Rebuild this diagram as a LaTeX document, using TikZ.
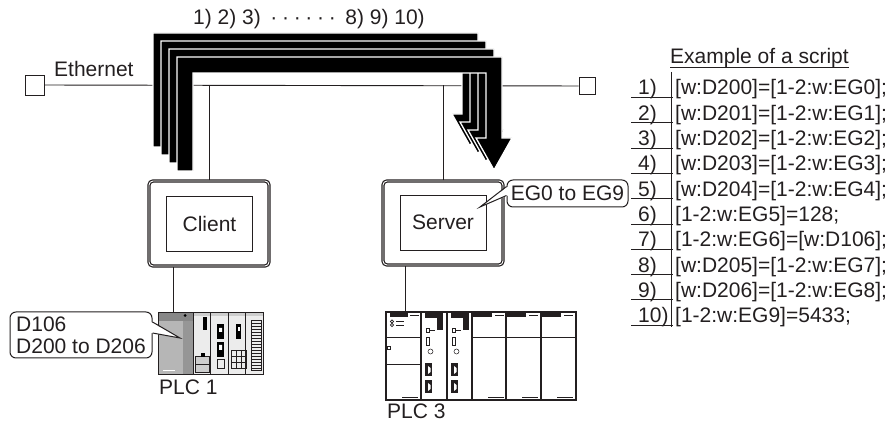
\documentclass[tikz,border=0pt]{standalone}
\usepackage{fontspec}
\setmainfont{Liberation Sans}

\definecolor{ink}{RGB}{35,31,32}
\definecolor{cpugray}{RGB}{182,182,182}
\definecolor{cpudark}{RGB}{150,150,150}
\definecolor{cputop}{RGB}{135,135,135}
\definecolor{modgray}{RGB}{236,236,236}
\definecolor{modtop}{RGB}{205,205,205}

\begin{document}
\begin{tikzpicture}[x=1pt,y=-1pt,
    font=\fontsize{21}{22}\selectfont,
    every node/.append style={text=ink},
    txt/.style={inner sep=0pt},
    wire/.style={draw=ink,line width=0.9pt},
    port/.style={draw=ink,fill=white,line width=0.9pt,inner sep=0pt},
    panel/.style={draw=ink,double=white,double distance=0.9pt,line width=1.2pt,
      rounded corners=4pt,minimum width=120pt,minimum height=85pt,inner sep=0pt},
    screen/.style={draw=ink,line width=0.9pt,minimum width=86pt,minimum height=55pt,inner sep=0pt},
    tag/.style={draw=ink,fill=white,line width=1pt,rounded corners=6pt,inner sep=3pt},
    packet/.style={fill=black,draw=white,line width=1.3pt}]
\useasboundingbox (0,0) rectangle (889,427);

% Ethernet bus
\node[port,minimum width=19pt,minimum height=20pt] (ethL) at (34.5,85) {};
\node[port,minimum width=16pt,minimum height=17pt] (ethR) at (587,86) {};
\draw[wire] (ethL) -- (ethR);
\node[txt,anchor=base west] (ethlbl) at (54,77) {Ethernet};

% GOT panels
\node[panel] (client) at (209,223.5) {};
\node[screen] (client-scr) at (209.5,223.5) {Client};
\node[panel,minimum height=84pt] (server) at (443,223) {};
\node[screen] (server-scr) at (443,222.5) {Server};
\draw[wire] (client.north) -- (client.north |- ethL);
\draw[wire] (server.north) -- (server.north |- ethL);

% Transfers 1) ... 10)
\foreach \k in {0,...,3}
  \draw[packet,shift={(8*\k,8*\k)}] (153,147) -- (153,33) -- (478,33) -- (478,114)
    -- (488,114) -- (470,146) -- (452,114) -- (462,114) -- (462,49) -- (169,49)
    -- (169,147) -- cycle;
\node[txt,anchor=base west] (seq) at (193,25)
  {1) 2) 3)\hspace{9.5pt}·\hspace{4.7pt}·\hspace{4.7pt}·\hspace{4.7pt}·\hspace{4.7pt}·\hspace{4.7pt}·\hspace{9.5pt}8) 9) 10)};

% PLC 1
\begin{scope}[shift={(158,312)}]
  \fill[cpugray] (0,0) rectangle (25,62);
  \fill[cpudark] (25,0) rectangle (35,62);
  \fill[cputop] (0,0) rectangle (35,9);
  \fill[black] (27,3.5) circle (1.5);
  \draw[white,line width=0.6pt] (5,58) -- (17,58);
  \foreach \a/\b in {35/52,52/70,70/87,87/105} {
    \fill[modgray] (\a,0) rectangle (\b,62);
    \fill[modtop] (\a,0) rectangle (\b,4);
    \draw[ink,line width=0.5pt] (\a,0) rectangle (\b,62);
  }
  % module details
  \fill[black] (45,5) rectangle (49,18);
  \fill[modtop] (37,44) rectangle (51,60);
  \draw[ink,line width=0.5pt] (37,44) rectangle (51,60) (37,52) -- (51,52);
  \fill[black] (43,41) rectangle (47,45);
  \fill[black] (59,12) rectangle (66,27);
  \fill[black] (59,30) rectangle (66,45);
  \fill[white] (61,33) rectangle (64,38) (61,16) rectangle (64,20);
  \draw[ink,line width=0.5pt] (59,47) rectangle (66,56);
  \fill[black] (78,12) rectangle (83,27);
  \fill[white] (79.5,15) rectangle (81.5,19);
  \foreach \gx in {73,78,83} \foreach \gy in {38,44,50} \draw[ink,line width=0.5pt] (\gx,\gy) rectangle +(5,6);
  \draw[ink,line width=0.5pt] (93,8) rectangle (103,58);
  \foreach \t in {11,14,...,56} \draw[ink,line width=0.4pt] (93,\t) -- (103,\t);
  \draw[ink,line width=0.8pt] (0,0) rectangle (105,62);
\end{scope}
\node[inner sep=0pt,minimum width=105pt,minimum height=62pt,anchor=north west] (plc1) at (158,312) {};
\node[txt,anchor=base west] (plc1-lbl) at (159,395) {PLC 1};
\coordinate (plc1-in) at (173,312);
\draw[wire] (plc1-in) -- (plc1-in |- client.south);

% PLC 3
\begin{scope}[shift={(386,312)},ink,line width=0.8pt]
  \fill[white] (0,0) rectangle (190,88);
  % power module
  \fill (4,1) rectangle (22,5);
  \draw (24,3.5) -- (33,3.5);
  \draw (6,9.5) circle (1.6) (6,13) circle (1.6);
  \draw (10,9.5) -- (18,9.5) (10,13) -- (18,13);
  \draw (0,25) -- (35,25) (0,52) -- (35,52);
  \draw[line width=0.5pt] (1,34) rectangle (4,37);
  % CPU modules
  \foreach \m in {35,61} {
    \fill (\m+4,1) rectangle (\m+22,6);
    \fill (\m+16,1) rectangle (\m+22,18);
    \draw[line width=0.5pt] (\m+5,16) rectangle (\m+8,20) (\m+8,18) -- (\m+14,18);
    \draw[line width=0.5pt] (\m+5,25) rectangle (\m+8,33);
    \draw[line width=0.5pt] (\m+9.5,39.5) circle (2.5);
    \fill (\m+4,51) rectangle (\m+11,64);
    \fill (\m+4,68) rectangle (\m+11,81);
    \fill[white] (\m+7,54) -- (\m+9.5,56) -- (\m+9.5,60) -- (\m+7,62) -- cycle;
    \fill[white] (\m+7,71) -- (\m+9.5,73) -- (\m+9.5,77) -- (\m+7,79) -- cycle;
  }
  % I/O modules
  \foreach \m in {86,120,155} {
    \fill (\m+1,1) rectangle (\m+20,5);
    \draw (\m+23,3.5) -- (\m+32,3.5);
    \draw (\m,25) -- (\m+35,25);
  }
  \foreach \m in {0,86,120,155} \draw (\m+16,85.5) -- (\m+32,85.5);
  \foreach \d in {35,61,86,120,155} \draw[line width=1.2pt] (\d,0) -- (\d,88);
  \draw[line width=2pt] (0,0) rectangle (190,88);
\end{scope}
\node[inner sep=0pt,minimum width=190pt,minimum height=88pt,anchor=north west] (plc3) at (386,312) {};
\node[txt,anchor=base west] (plc3-lbl) at (387,418) {PLC 3};
\coordinate (plc3-in) at (405,312);
\draw[wire] (plc3-in) -- (plc3-in |- server.south);

% Callouts
\node[tag,minimum width=121pt,minimum height=27pt] (egtag) at (567.5,193.5) {EG0 to EG9};
\coordinate (eg-tip) at (480,207);
\fill[white] ([xshift=1.5pt,yshift=7pt]egtag.west) -- (eg-tip) -- ([xshift=1.5pt,yshift=-2pt]egtag.west) -- cycle;
\draw[ink,line width=1pt] ([yshift=7pt]egtag.west) -- (eg-tip) -- ([yshift=-2pt]egtag.west);

\node[tag,align=left,minimum width=142pt,minimum height=46pt] (dtag) at (81,335) {D106\\D200 to D206};
\coordinate (d-tip) at (180,338);
\fill[white] ([xshift=-1.5pt,yshift=13pt]dtag.east) -- (d-tip) -- ([xshift=-1.5pt,yshift=2pt]dtag.east) -- cycle;
\draw[ink,line width=1pt] ([yshift=13pt]dtag.east) -- (d-tip) -- ([yshift=2pt]dtag.east);

% Script listing
\node[txt,anchor=base west] (scripthead) at (670,64) {Example of a script};
\draw[wire] ([yshift=-3pt]scripthead.base west) -- ([yshift=-3pt]scripthead.base east);
\draw[wire] (671,72) -- (671,327);
\foreach \s [count=\i] in {{[w:D200]=[1-2:w:EG0];},{[w:D201]=[1-2:w:EG1];},
    {[w:D202]=[1-2:w:EG2];},{[w:D203]=[1-2:w:EG3];},{[w:D204]=[1-2:w:EG4];},
    {[1-2:w:EG5]=128;},{[1-2:w:EG6]=[w:D106];},{[w:D205]=[1-2:w:EG7];},
    {[w:D206]=[1-2:w:EG8];},{[1-2:w:EG9]=5433;}} {
  \pgfmathsetmacro\yb{95+25.3*(\i-1)}
  \node[txt,anchor=base west] (num\i) at (638,\yb) {\i)};
  \node[txt,anchor=base west] (row\i) at (675,\yb) {\s};
  \draw[wire] (631,\yb+2.5) -- (673,\yb+2.5);
}
\end{tikzpicture}
\end{document}
